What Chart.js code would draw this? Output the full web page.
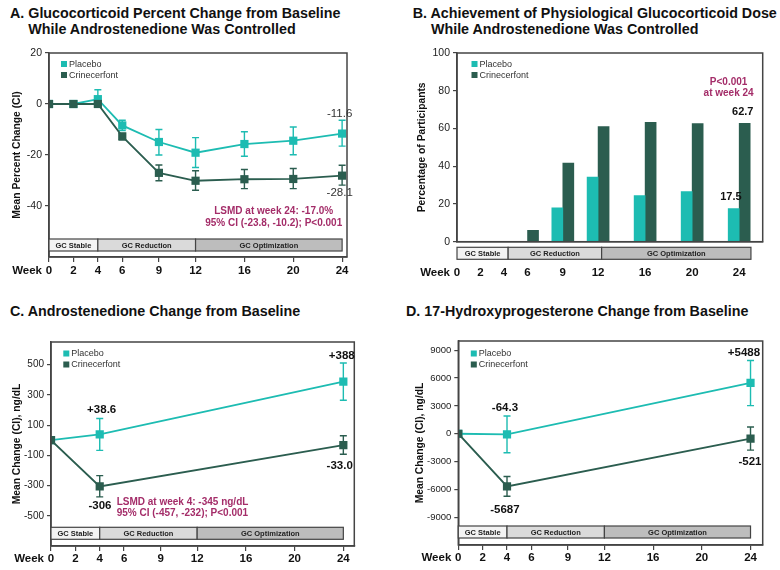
<!DOCTYPE html>
<html><head><meta charset="utf-8">
<script src="https://cdn.jsdelivr.net/npm/chart.js@4.4.1/dist/chart.umd.min.js"></script>
<style>
body{margin:0;background:#fff;width:780px;height:570px;overflow:hidden;position:relative;font-family:"Liberation Sans",Arial,sans-serif;}
.t{position:absolute;font-weight:bold;font-size:14.3px;line-height:16px;color:#111;white-space:nowrap;padding-left:1.278em;text-indent:-1.278em;}
canvas{position:absolute;}
</style></head><body>
<div class="t" style="left:10px;top:4.5px">A. Glucocorticoid Percent Change from Baseline<br>While Androstenedione Was Controlled</div>
<div class="t" style="left:412.7px;top:4.5px">B. Achievement of Physiological Glucocorticoid Dose<br>While Androstenedione Was Controlled</div>
<div class="t" style="left:10px;top:302.5px">C. Androstenedione Change from Baseline</div>
<div class="t" style="left:406px;top:302.5px">D. 17-Hydroxyprogesterone Change from Baseline</div>
<canvas id="cA" width="390" height="290" style="left:0;top:0"></canvas>
<canvas id="cB" width="390" height="290" style="left:390px;top:0"></canvas>
<canvas id="cC" width="390" height="280" style="left:0;top:290px"></canvas>
<canvas id="cD" width="390" height="280" style="left:390px;top:290px"></canvas>
<script>
// ---------- shared ----------
const WEEK_TICKS = [0, 2, 4, 6, 9, 12, 16, 20, 24];
const SERIES_NAMES = ['Placebo', 'Crinecerfont'];
const PHASE_LABELS = ['GC Stable', 'GC Reduction', 'GC Optimization'];

// ---------- Panel A: glucocorticoid % change ----------
const aWeeks = [0, 2, 4, 6, 9, 12, 16, 20, 24];
const aPlacebo   = [0, 0, 1.9, -8.4, -14.9, -19.1, -15.7, -14.4, -11.6];
const aPlaceboLo = [0, 0, -0.5, -10.4, -20.0, -24.9, -20.5, -19.9, -16.5];
const aPlaceboHi = [0, 0, 5.6, -6.4, -10.0, -13.2, -10.9, -9.0, -6.4];
const aCrin      = [0, 0, 0, -12.7, -27.0, -30.1, -29.5, -29.4, -28.1];
const aCrinLo    = [0, 0, 0, -14.0, -30.1, -33.8, -33.2, -33.2, -31.8];
const aCrinHi    = [0, 0, 0, -11.5, -23.9, -26.2, -25.7, -25.3, -24.0];
const aYTicks = [-40, -20, 0, 20];

// ---------- Panel B: % participants at physiological dose ----------
const bWeeks   = [6, 9, 12, 16, 20, 24];
const bPlacebo = [0, 18.0, 34.3, 24.4, 26.6, 17.5];
const bCrin    = [6.0, 41.6, 61.0, 63.3, 62.6, 62.7];
const bYTicks = [0, 20, 40, 60, 80, 100];

// ---------- Panel C: androstenedione change ----------
const cWeeks = [0, 4, 24];
const cPlacebo   = [0, 38.6, 388];
const cPlaceboLo = [0, -67, 265];
const cPlaceboHi = [0, 144, 511];
const cCrin      = [0, -306, -33.0];
const cCrinLo    = [0, -375, -93];
const cCrinHi    = [0, -234, 30];
const cYTicks = [-500, -300, -100, 100, 300, 500];

// ---------- Panel D: 17-OHP change ----------
const dWeeks = [0, 4, 24];
const dPlacebo   = [0, -64.3, 5488];
const dPlaceboLo = [0, -2055, 3029];
const dPlaceboHi = [0, 1911, 7897];
const dCrin      = [0, -5687, -521];
const dCrinLo    = [0, -6743, -1767];
const dCrinHi    = [0, -4616, 721];
const dYTicks = [-9000, -6000, -3000, 0, 3000, 6000, 9000];

// ---------- styles ----------
const COL_PBO = '#1dbcb2', COL_CRN = '#2b5d4f', COL_NOTE = '#a42d69';
const PHASE_FILLS = ['#f3f3f3', '#dadada', '#bdbdbd'];
const FONT = "'Liberation Sans', Arial, sans-serif";
Chart.defaults.font.family = FONT;

function pts(xs, ys) { return xs.map((x, i) => ({ x: x, y: ys[i] })); }

function lineDs(label, xs, ys, color, order) {
  return { label, data: pts(xs, ys), borderColor: color, backgroundColor: color,
    borderWidth: 1.8, pointStyle: 'rect', pointRadius: 5.8, pointBorderWidth: 0,
    pointBackgroundColor: color, tension: 0, order };
}

function weekAxis(max, tickLen, pad, height, grid) {
  return { type: 'linear', min: 0, max: max, offset: false,
    afterBuildTicks: s => { s.ticks = WEEK_TICKS.map(v => ({ value: v })); },
    afterFit: s => { s.height = height; },
    ticks: { autoSkip: false, maxRotation: 0, padding: pad, color: '#111',
      font: { size: 11.5, weight: 'bold' }, callback: v => String(v) },
    grid: { display: grid, drawOnChartArea: false, tickLength: tickLen, color: '#444', lineWidth: 1.2, offset: false },
    border: { display: true, color: '#444', width: 1.5 } };
}

function valAxis(min, max, ticks, width, title, tickSize, titlePad) {
  return { type: 'linear', min: min, max: max,
    afterBuildTicks: s => { s.ticks = ticks.map(v => ({ value: v })); },
    afterFit: s => { s.width = width; },
    ticks: { padding: 3, color: '#222', font: { size: tickSize }, callback: v => String(v) },
    grid: { drawOnChartArea: false, tickLength: 4, color: '#444', lineWidth: 1.2 },
    border: { color: '#444', width: 1.5 },
    title: { display: true, text: title, color: '#111', font: { size: 10.3, weight: 'bold' },
      padding: { top: titlePad, bottom: 0 } } };
}

// ---------- extras plugin (error bars, frame, phase bar, legend, notes) ----------
const EXTRAS = {};
Chart.register({
  id: 'extras',
  beforeDatasetsDraw(chart) {
    const cfg = EXTRAS[chart.canvas.id]; if (!cfg) return;
    const ctx = chart.ctx, ys = chart.scales.y;
    (cfg.errors || []).forEach(e => {
      const meta = chart.getDatasetMeta(e.ds);
      ctx.save(); ctx.strokeStyle = e.color; ctx.lineWidth = 1.4;
      e.lo.forEach((lo, j) => {
        const hi = e.hi[j]; if (lo === hi) return;
        const x = meta.data[j].x, y1 = ys.getPixelForValue(lo), y2 = ys.getPixelForValue(hi);
        ctx.beginPath();
        ctx.moveTo(x, y1); ctx.lineTo(x, y2);
        ctx.moveTo(x - 3.5, y1); ctx.lineTo(x + 3.5, y1);
        ctx.moveTo(x - 3.5, y2); ctx.lineTo(x + 3.5, y2);
        ctx.stroke();
      });
      ctx.restore();
    });
  },
  afterDraw(chart) {
    const cfg = EXTRAS[chart.canvas.id]; if (!cfg) return;
    const ctx = chart.ctx, a = chart.chartArea, xs = chart.scales.x, ys = chart.scales.y;
    ctx.save();
    // frame
    ctx.strokeStyle = '#444'; ctx.lineWidth = 1.5;
    ctx.strokeRect(a.left, a.top, a.right - a.left, a.bottom - a.top);
    // phase bar
    const ph = cfg.phases;
    const top = a.bottom + ph.dy, h = 12;
    ctx.font = 'bold 7.5px ' + FONT; ctx.textAlign = 'center'; ctx.textBaseline = 'middle';
    PHASE_LABELS.forEach((lab, i) => {
      const x1 = xs.getPixelForValue(ph.bounds[i]), x2 = xs.getPixelForValue(ph.bounds[i + 1]);
      ctx.fillStyle = PHASE_FILLS[i]; ctx.fillRect(x1, top, x2 - x1, h);
      ctx.strokeStyle = '#444'; ctx.lineWidth = 1.2; ctx.strokeRect(x1, top, x2 - x1, h);
      ctx.fillStyle = '#222'; ctx.fillText(lab, (x1 + x2) / 2, top + h / 2 + 0.5);
    });
    // legend
    const lg = cfg.legend;
    ctx.font = '9px ' + FONT; ctx.textAlign = 'left'; ctx.textBaseline = 'middle';
    chart.data.datasets.forEach((ds, i) => {
      const cx = a.left + lg.dx, cy = a.top + lg.dy + i * 11;
      ctx.fillStyle = Array.isArray(ds.backgroundColor) ? ds.backgroundColor[0] : ds.backgroundColor;
      ctx.fillRect(cx, cy - 3, 6, 6);
      ctx.fillStyle = '#333'; ctx.fillText(ds.label, cx + 8, cy + 0.5);
    });
    // notes
    (cfg.notes || []).forEach(n => {
      ctx.font = (n.bold ? 'bold ' : '') + n.size + 'px ' + FONT;
      ctx.fillStyle = n.color; ctx.textAlign = n.align || 'center'; ctx.textBaseline = 'middle';
      ctx.fillText(n.text, xs.getPixelForValue(n.x), ys.getPixelForValue(n.y));
    });
    // "Week" label aligned with the tick labels
    const items = xs.getLabelItems();
    if (items.length) {
      const it = items[0];
      ctx.font = 'bold 11.5px ' + FONT; ctx.fillStyle = '#111';
      ctx.textAlign = 'right'; ctx.textBaseline = it.options.textBaseline;
      ctx.fillText('Week', a.left - 7, it.options.translation[1] + it.textOffset);
    }
    ctx.restore();
  }
});

const baseOpts = { responsive: false, animation: false,
  plugins: { legend: { display: false }, tooltip: { enabled: false } } };

// ---------- A ----------
EXTRAS.cA = {
  errors: [{ ds: 0, lo: aPlaceboLo, hi: aPlaceboHi, color: COL_PBO }, { ds: 1, lo: aCrinLo, hi: aCrinHi, color: COL_CRN }],
  phases: { bounds: [0, 4, 12, 24], dy: -18 },
  legend: { dx: 12, dy: 11 },
  notes: [
    { text: '-11.6', x: 23.8, y: -3.8, size: 11.5, color: '#333' },
    { text: '-28.1', x: 23.8, y: -34.8, size: 11.5, color: '#333' },
    { text: 'LSMD at week 24: -17.0%', x: 18.4, y: -42.2, size: 10, bold: true, color: COL_NOTE },
    { text: '95% CI (-23.8, -10.2); P<0.001', x: 18.4, y: -46.6, size: 10, bold: true, color: COL_NOTE }
  ]
};
new Chart(document.getElementById('cA'), {
  type: 'line',
  data: { datasets: [lineDs(SERIES_NAMES[0], aWeeks, aPlacebo, COL_PBO, 1), lineDs(SERIES_NAMES[1], aWeeks, aCrin, COL_CRN, 0)] },
  options: Object.assign({}, baseOpts, {
    layout: { padding: { left: 0, top: 53, right: 43, bottom: 3 } },
    scales: { x: weekAxis(24.4, 5, 2, 30, true),
              y: valAxis(-60, 20, aYTicks, 49, 'Mean Percent Change (CI)', 10.5, 10.7) }
  })
});

// ---------- B ----------
EXTRAS.cB = {
  phases: { bounds: [0, 4.35, 12.3, 25], dy: 5.6 },
  legend: { dx: 14.5, dy: 11 },
  notes: [
    { text: 'P<0.001', x: 23.1, y: 84.7, size: 10, bold: true, color: COL_NOTE },
    { text: 'at week 24', x: 23.1, y: 78.5, size: 10, bold: true, color: COL_NOTE },
    { text: '62.7', x: 24.3, y: 68.8, size: 11, bold: true, color: '#111' },
    { text: '17.5', x: 23.3, y: 23.7, size: 11, bold: true, color: '#111' }
  ]
};
new Chart(document.getElementById('cB'), {
  type: 'bar',
  data: { datasets: [
    { label: SERIES_NAMES[0], data: pts(bWeeks, bPlacebo), backgroundColor: COL_PBO, barThickness: 11 },
    { label: SERIES_NAMES[1], data: pts(bWeeks, bCrin), backgroundColor: COL_CRN, barThickness: 11 }
  ] },
  options: Object.assign({}, baseOpts, {
    layout: { padding: { left: 0, top: 53, right: 17.3, bottom: 3.3 } },
    scales: { x: weekAxis(26, 0, 24.4, 45, false),
              y: valAxis(0, 100, bYTicks, 67, 'Percentage of Participants', 10.5, 25.7) }
  })
});

// ---------- C ----------
EXTRAS.cC = {
  errors: [{ ds: 0, lo: cPlaceboLo, hi: cPlaceboHi, color: COL_PBO }, { ds: 1, lo: cCrinLo, hi: cCrinHi, color: COL_CRN }],
  phases: { bounds: [0, 4, 12, 24], dy: -18.7 },
  legend: { dx: 12.3, dy: 11.5 },
  notes: [
    { text: '+388', x: 23.87, y: 560, size: 11.5, bold: true, color: '#111' },
    { text: '+38.6', x: 4.16, y: 203, size: 11.5, bold: true, color: '#111' },
    { text: '-306', x: 4.02, y: -437, size: 11.5, bold: true, color: '#111' },
    { text: '-33.0', x: 23.7, y: -168, size: 11.5, bold: true, color: '#111' },
    { text: 'LSMD at week 4: -345 ng/dL', x: 5.39, y: -408, size: 10, bold: true, color: COL_NOTE, align: 'left' },
    { text: '95% CI (-457, -232); P<0.001', x: 5.39, y: -481, size: 10, bold: true, color: COL_NOTE, align: 'left' }
  ]
};
new Chart(document.getElementById('cC'), {
  type: 'line',
  data: { datasets: [lineDs(SERIES_NAMES[0], cWeeks, cPlacebo, COL_PBO, 1), lineDs(SERIES_NAMES[1], cWeeks, cCrin, COL_CRN, 0)] },
  options: Object.assign({}, baseOpts, {
    layout: { padding: { left: 0, top: 52, right: 35.7, bottom: 2 } },
    scales: { x: weekAxis(24.9, 5, 1.4, 22, true),
              y: valAxis(-700, 650, cYTicks, 51, 'Mean Change (CI), ng/dL', 10, 10.7) }
  })
});

// ---------- D ----------
EXTRAS.cD = {
  errors: [{ ds: 0, lo: dPlaceboLo, hi: dPlaceboHi, color: COL_PBO }, { ds: 1, lo: dCrinLo, hi: dCrinHi, color: COL_CRN }],
  phases: { bounds: [0, 4, 12, 24], dy: -19 },
  legend: { dx: 12.5, dy: 12.5 },
  notes: [
    { text: '+5488', x: 23.46, y: 8740, size: 11.5, bold: true, color: '#111' },
    { text: '-64.3', x: 3.83, y: 2783, size: 11.5, bold: true, color: '#111' },
    { text: '-5687', x: 3.83, y: -8231, size: 11.5, bold: true, color: '#111' },
    { text: '-521', x: 23.95, y: -3000, size: 11.5, bold: true, color: '#111' }
  ]
};
new Chart(document.getElementById('cD'), {
  type: 'line',
  data: { datasets: [lineDs(SERIES_NAMES[0], dWeeks, dPlacebo, COL_PBO, 1), lineDs(SERIES_NAMES[1], dWeeks, dCrin, COL_CRN, 0)] },
  options: Object.assign({}, baseOpts, {
    layout: { padding: { left: 0, top: 51, right: 17.3, bottom: 2 } },
    scales: { x: weekAxis(25, 5, 0.8, 23, true),
              y: valAxis(-12000, 10000, dYTicks, 68.3, 'Mean Change (CI), ng/dL', 9.5, 23.7) }
  })
});
</script>
</body></html>
